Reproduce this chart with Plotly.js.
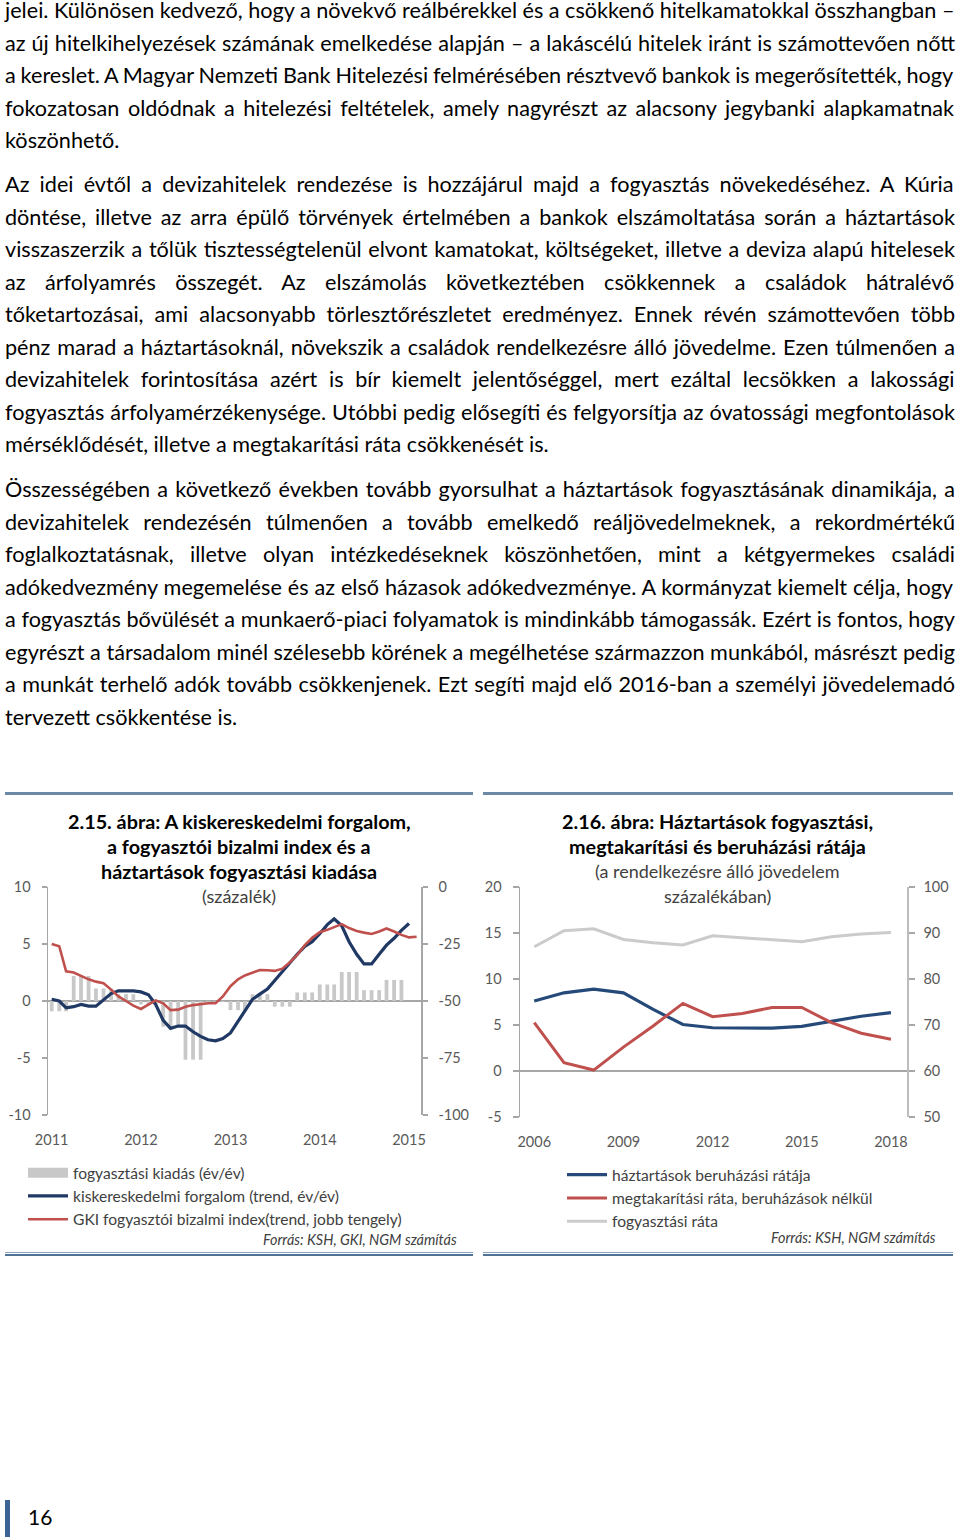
<!DOCTYPE html>
<html><head><meta charset="utf-8">
<script src="https://cdn.plot.ly/plotly-3.0.1.min.js"></script>
<style>
html,body{margin:0;padding:0;background:#fff;}
body{width:960px;height:1540px;position:relative;overflow:hidden;font-family:Lato,"Open Sans",sans-serif;}
.line{position:absolute;left:5px;white-space:pre;color:#000;}
.rule{position:absolute;}
</style></head><body>
<div id="text"></div>
<div class="rule" style="left:5px;top:792px;width:468px;height:3px;background:#6d89a5"></div>
<div class="rule" style="left:483px;top:792px;width:470px;height:3px;background:#6d89a5"></div>
<div class="rule" style="left:5px;top:1252px;width:468px;height:1px;background:#8da3b8"></div>
<div class="rule" style="left:5px;top:1254px;width:468px;height:2px;background:#4f7296"></div>
<div class="rule" style="left:483px;top:1252px;width:470px;height:1px;background:#8da3b8"></div>
<div class="rule" style="left:483px;top:1254px;width:470px;height:2px;background:#4f7296"></div>
<div id="c1" style="position:absolute;left:0;top:795px;width:480px;height:455px"></div>
<div id="c2" style="position:absolute;left:480px;top:795px;width:480px;height:455px"></div>
<div style="position:absolute;left:5px;top:1500px;width:5px;height:37px;background:#3d6594"></div>
<div style="position:absolute;left:28px;top:1505px;font-size:21px;line-height:24px;color:#000">16</div>
<script>
// ---------------- TEXT ----------------
const para1 = [
"jelei. Különösen kedvező, hogy a növekvő reálbérekkel és a csökkenő hitelkamatokkal összhangban –",
"az új hitelkihelyezések számának emelkedése alapján – a lakáscélú hitelek iránt is számottevően nőtt",
"a kereslet. A Magyar Nemzeti Bank Hitelezési felmérésében résztvevő bankok is megerősítették, hogy",
"fokozatosan oldódnak a hitelezési feltételek, amely nagyrészt az alacsony jegybanki alapkamatnak",
"köszönhető."];
const para2 = [
"Az idei évtől a devizahitelek rendezése is hozzájárul majd a fogyasztás növekedéséhez. A Kúria",
"döntése, illetve az arra épülő törvények értelmében a bankok elszámoltatása során a háztartások",
"visszaszerzik a tőlük tisztességtelenül elvont kamatokat, költségeket, illetve a deviza alapú hitelesek",
"az árfolyamrés összegét. Az elszámolás következtében csökkennek a családok hátralévő",
"tőketartozásai, ami alacsonyabb törlesztőrészletet eredményez. Ennek révén számottevően több",
"pénz marad a háztartásoknál, növekszik a családok rendelkezésre álló jövedelme. Ezen túlmenően a",
"devizahitelek forintosítása azért is bír kiemelt jelentőséggel, mert ezáltal lecsökken a lakossági",
"fogyasztás árfolyamérzékenysége. Utóbbi pedig elősegíti és felgyorsítja az óvatossági megfontolások",
"mérséklődését, illetve a megtakarítási ráta csökkenését is."];
const para3 = [
"Összességében a következő években tovább gyorsulhat a háztartások fogyasztásának dinamikája, a",
"devizahitelek rendezésén túlmenően a tovább emelkedő reáljövedelmeknek, a rekordmértékű",
"foglalkoztatásnak, illetve olyan intézkedéseknek köszönhetően, mint a kétgyermekes családi",
"adókedvezmény megemelése és az első házasok adókedvezménye. A kormányzat kiemelt célja, hogy",
"a fogyasztás bővülését a munkaerő-piaci folyamatok is mindinkább támogassák. Ezért is fontos, hogy",
"egyrészt a társadalom minél szélesebb körének a megélhetése származzon munkából, másrészt pedig",
"a munkát terhelő adók tovább csökkenjenek. Ezt segíti majd elő 2016-ban a személyi jövedelemadó",
"tervezett csökkentése is."];
const paragraphs = [para1, para2, para3];
const firstBaselines = [18, 192, 497];

(function layoutText(){
  const LH = 32.5, W = 950, FAM = 'Lato';
  const cv = document.createElement('canvas').getContext('2d');
  cv.font = '100px ' + FAM;
  const ref = para2[8];
  const fs = 100 * 544 / cv.measureText(ref).width;
  cv.font = fs + 'px ' + FAM;
  const probe = document.createElement('div');
  probe.style.cssText = 'position:absolute;left:0;top:0;font-size:'+fs+'px;line-height:'+LH+'px;font-family:'+FAM;
  probe.innerHTML = 'Ag<span style="display:inline-block;width:0;height:0"></span>';
  document.body.appendChild(probe);
  const bOff = probe.lastChild.offsetTop;
  document.body.removeChild(probe);
  const host = document.getElementById('text');
  paragraphs.forEach((lines, pi) => {
    lines.forEach((t, li) => {
      const d = document.createElement('div');
      d.className = 'line';
      d.textContent = t;
      d.style.fontSize = fs + 'px';
      d.style.lineHeight = LH + 'px';
      d.style.top = (firstBaselines[pi] + li * LH - bOff) + 'px';
      if (li < lines.length - 1) {
        const w = cv.measureText(t).width;
        const n = (t.match(/ /g) || []).length;
        if (n) d.style.wordSpacing = ((W - w) / n) + 'px';
      }
      host.appendChild(d);
    });
  });
})();

// ---------------- CHART 1 DATA ----------------
const c1Start = [2011, 1];
const c1Ticks = ['2011-01-01','2012-01-01','2013-01-01','2014-01-01','2015-01-01'];
const c1TickText = ['2011','2012','2013','2014','2015'];
const c1LeftTicks = [-10,-5,0,5,10];
const c1LeftText = ['-10','-5','0','5','10'];
const c1RightTicks = [-100,-75,-50,-25,0];
const c1RightText = ['-100','-75','-50','-25','0'];
// quarterly household consumption expenditure (y/y, %), 2011Q1..2014Q4
const consQ = [-0.9, 2.2, 1.1, 0.6, -0.3, -2.25, -5.15, -0.1, -0.8, 0.6, -0.5, 0.75, 1.45, 2.55, 0.95, 1.85];
// retail sales trend y/y, monthly 2011-01..2015-01
const retail = [0.15, 0.0, -0.6, -0.5, -0.3, -0.45, -0.45, 0.1, 0.65, 0.9, 0.9, 0.88,
  0.8, 0.55, -0.3, -1.7, -2.4, -2.2, -2.2, -2.7, -3.1, -3.4, -3.5, -3.3,
  -2.8, -1.8, -0.8, 0.15, 0.6, 1.05, 1.8, 2.6, 3.35, 4.1, 4.8, 5.2,
  5.9, 6.7, 7.2, 6.6, 5.2, 4.1, 3.25, 3.25, 4.1, 4.9, 5.5, 6.2, 6.8];
// GKI consumer confidence trend, monthly 2011-01..2015-02 (right axis)
const gki = [-25, -26, -37, -37.5, -39, -40.5, -41.5, -42.2, -45, -48, -50, -52,
  -53.5, -51.5, -49.7, -51, -54, -53.8, -52.5, -51.8, -51.3, -51, -51, -48,
  -43.5, -40.5, -38.8, -37.5, -36.4, -36.5, -36.8, -35.8, -33, -29.8, -25.5, -22.3,
  -19.8, -18.8, -17.5, -16.3, -18, -19.3, -20, -20.6, -19.5, -18.2, -19.5, -21,
  -22.1, -21.8];
const c1Names = ['fogyasztási kiadás (év/év)', 'kiskereskedelmi forgalom (trend, év/év)', 'GKI fogyasztói bizalmi index(trend, jobb tengely)'];

// ---------------- CHART 2 DATA ----------------
const years = [2006,2007,2008,2009,2010,2011,2012,2013,2014,2015,2016,2017,2018];
const invRate = [7.6, 8.5, 8.9, 8.5, 6.7, 5.05, 4.7, 4.65, 4.65, 4.85, 5.4, 5.95, 6.35];
const savRate = [5.25, 0.9, 0.1, 2.6, 4.9, 7.35, 5.9, 6.25, 6.9, 6.9, 5.25, 4.1, 3.45];
const consRate = [87.0, 90.5, 90.9, 88.6, 87.9, 87.4, 89.4, 89.0, 88.5, 88.1, 89.2, 89.8, 90.1];
const c2Ticks = [2006, 2009, 2012, 2015, 2018];
const c2TickText = ['2006','2009','2012','2015','2018'];
const c2LeftTicks = [-5,0,5,10,15,20];
const c2LeftText = ['-5','0','5','10','15','20'];
const c2RightTicks = [50,60,70,80,90,100];
const c2RightText = ['50','60','70','80','90','100'];
const c2Names = ['háztartások beruházási rátája', 'megtakarítási ráta, beruházások nélkül', 'fogyasztási ráta'];

// ---------------- helpers ----------------
function monthStr(i){
  const y = c1Start[0] + Math.floor((c1Start[1]-1+i)/12);
  const m = (c1Start[1]-1+i)%12 + 1;
  return y + '-' + (m<10?'0':'') + m + '-01';
}
function frame(left, top, l, t, pw, ph){
  return { x: px => (px - left - l)/pw, y: py => (top + t + ph - py)/ph };
}
const FONT = 'Lato, "Open Sans", sans-serif';
const AX = '#a6a6a6', TICK = '#595959', LEG = '#404040';
const cfg = {staticPlot:true, displayModeBar:false};
const TB = 19.8, TR = 18, LF = 15.6, SF = 14.4;

// ---------------- CHART 1 ----------------
(function(){
  const F = frame(0, 795, 48, 92, 373, 228);
  const barX = [], barY = [];
  consQ.forEach((v,q) => { for (let k=0;k<3;k++){ barX.push(monthStr(q*3+k)); barY.push(v); } });
  const traces = [
    {type:'bar', x:barX, y:barY, marker:{color:'#c8c8c8'}, showlegend:false, hoverinfo:'skip'},
    {type:'scatter', mode:'lines', x:[null], y:[null], line:{color:'#c8c8c8', width:10}, name:c1Names[0]},
    {type:'scatter', mode:'lines', x:retail.map((_,i)=>monthStr(i)), y:retail, line:{color:'#1f3864', width:3.2}, name:c1Names[1]},
    {type:'scatter', mode:'lines', x:gki.map((_,i)=>monthStr(i)), y:gki, yaxis:'y2', line:{color:'#c0504d', width:2.6}, name:c1Names[2]}
  ];
  const tl = (txt, py, bold) => ({xref:'paper', yref:'paper', x:F.x(239), y:F.y(py), xanchor:'center', yanchor:'middle',
    text: bold ? '<b>'+txt+'</b>' : txt, showarrow:false, font:{family:FONT, size: bold ? TB : TR, color: bold ? '#000' : '#404040'}});
  const layout = {
    width:480, height:455, margin:{l:48, r:59, t:92, b:135, autoexpand:false},
    paper_bgcolor:'rgba(0,0,0,0)', plot_bgcolor:'rgba(0,0,0,0)',
    font:{family:FONT, size:14.5, color:TICK},
    bargap:0.45,
    showlegend:true,
    legend:{x:F.x(23), y:F.y(1156), xanchor:'left', yanchor:'top', bgcolor:'rgba(0,0,0,0)', itemwidth:40,
      font:{family:FONT, size:LF, color:LEG}},
    xaxis:{type:'date', range:['2010-12-17','2015-02-19'], tickvals:c1Ticks, ticktext:c1TickText, ticks:'',
      showline:false, showgrid:false, zeroline:false, ticklabelstandoff:14, fixedrange:true},
    yaxis:{range:[-10,10], tickvals:c1LeftTicks, ticktext:c1LeftText, ticks:'outside', ticklen:5, tickcolor:AX, tickwidth:1.2,
      showline:true, linecolor:AX, linewidth:1.5, showgrid:false, zeroline:true, zerolinecolor:AX, zerolinewidth:1.5,
      ticklabelstandoff:8},
    yaxis2:{overlaying:'y', side:'right', range:[-100,0], tickvals:c1RightTicks, ticktext:c1RightText, ticks:'outside',
      ticklen:5, tickcolor:AX, tickwidth:1.2, showline:true, linecolor:AX, linewidth:1.5, showgrid:false, zeroline:false,
      ticklabelstandoff:8},
    annotations:[
      tl('2.15. ábra: A kiskereskedelmi forgalom,', 821, true),
      tl('a fogyasztói bizalmi index és a', 846, true),
      tl('háztartások fogyasztási kiadása', 871, true),
      tl('(százalék)', 896, false),
      {xref:'paper', yref:'paper', x:F.x(459), y:F.y(1239), xanchor:'right', yanchor:'middle', showarrow:false,
        text:'<i>Forrás: KSH, GKI, NGM számítás</i>', font:{family:FONT, size:SF, color:LEG}}
    ]
  };
  Plotly.newPlot('c1', traces, layout, cfg);
})();

// ---------------- CHART 2 ----------------
(function(){
  const F = frame(480, 795, 40, 92, 387, 230);
  const traces = [
    {type:'scatter', mode:'lines', x:years, y:invRate, line:{color:'#254a7a', width:3.2}, name:c2Names[0]},
    {type:'scatter', mode:'lines', x:years, y:savRate, line:{color:'#c0504d', width:3}, name:c2Names[1]},
    {type:'scatter', mode:'lines', x:years, y:consRate, yaxis:'y2', line:{color:'#cbcbcb', width:3}, name:c2Names[2]}
  ];
  const tl = (txt, py, bold) => ({xref:'paper', yref:'paper', x:F.x(717), y:F.y(py), xanchor:'center', yanchor:'middle',
    text: bold ? '<b>'+txt+'</b>' : txt, showarrow:false, font:{family:FONT, size: bold ? TB : TR, color: bold ? '#000' : '#404040'}});
  const layout = {
    width:480, height:455, margin:{l:40, r:53, t:92, b:133, autoexpand:false},
    paper_bgcolor:'rgba(0,0,0,0)', plot_bgcolor:'rgba(0,0,0,0)',
    font:{family:FONT, size:14.5, color:TICK},
    showlegend:true,
    legend:{x:F.x(562), y:F.y(1158), xanchor:'left', yanchor:'top', bgcolor:'rgba(0,0,0,0)', itemwidth:40,
      font:{family:FONT, size:LF, color:LEG}},
    xaxis:{range:[2005.52, 2018.54], tickvals:c2Ticks, ticktext:c2TickText, ticks:'', showline:false, showgrid:false,
      zeroline:false, ticklabelstandoff:14},
    yaxis:{range:[-5,20], tickvals:c2LeftTicks, ticktext:c2LeftText, ticks:'outside', ticklen:6, tickcolor:AX, tickwidth:1.2,
      showline:true, linecolor:AX, linewidth:1.5, showgrid:false, zeroline:true, zerolinecolor:AX, zerolinewidth:1.5,
      ticklabelstandoff:8},
    yaxis2:{overlaying:'y', side:'right', range:[50,100], tickvals:c2RightTicks, ticktext:c2RightText, ticks:'outside',
      ticklen:6, tickcolor:AX, tickwidth:1.2, showline:true, linecolor:'#bdbdbd', linewidth:1.5, showgrid:false, zeroline:false,
      ticklabelstandoff:6},
    annotations:[
      tl('2.16. ábra: Háztartások fogyasztási,', 821, true),
      tl('megtakarítási és beruházási rátája', 846, true),
      tl('(a rendelkezésre álló jövedelem', 871, false),
      tl('százalékában)', 896, false),
      {xref:'paper', yref:'paper', x:F.x(938), y:F.y(1237), xanchor:'right', yanchor:'middle', showarrow:false,
        text:'<i>Forrás: KSH, NGM számítás</i>', font:{family:FONT, size:SF, color:LEG}}
    ]
  };
  Plotly.newPlot('c2', traces, layout, cfg);
})();
</script>
</body></html>
